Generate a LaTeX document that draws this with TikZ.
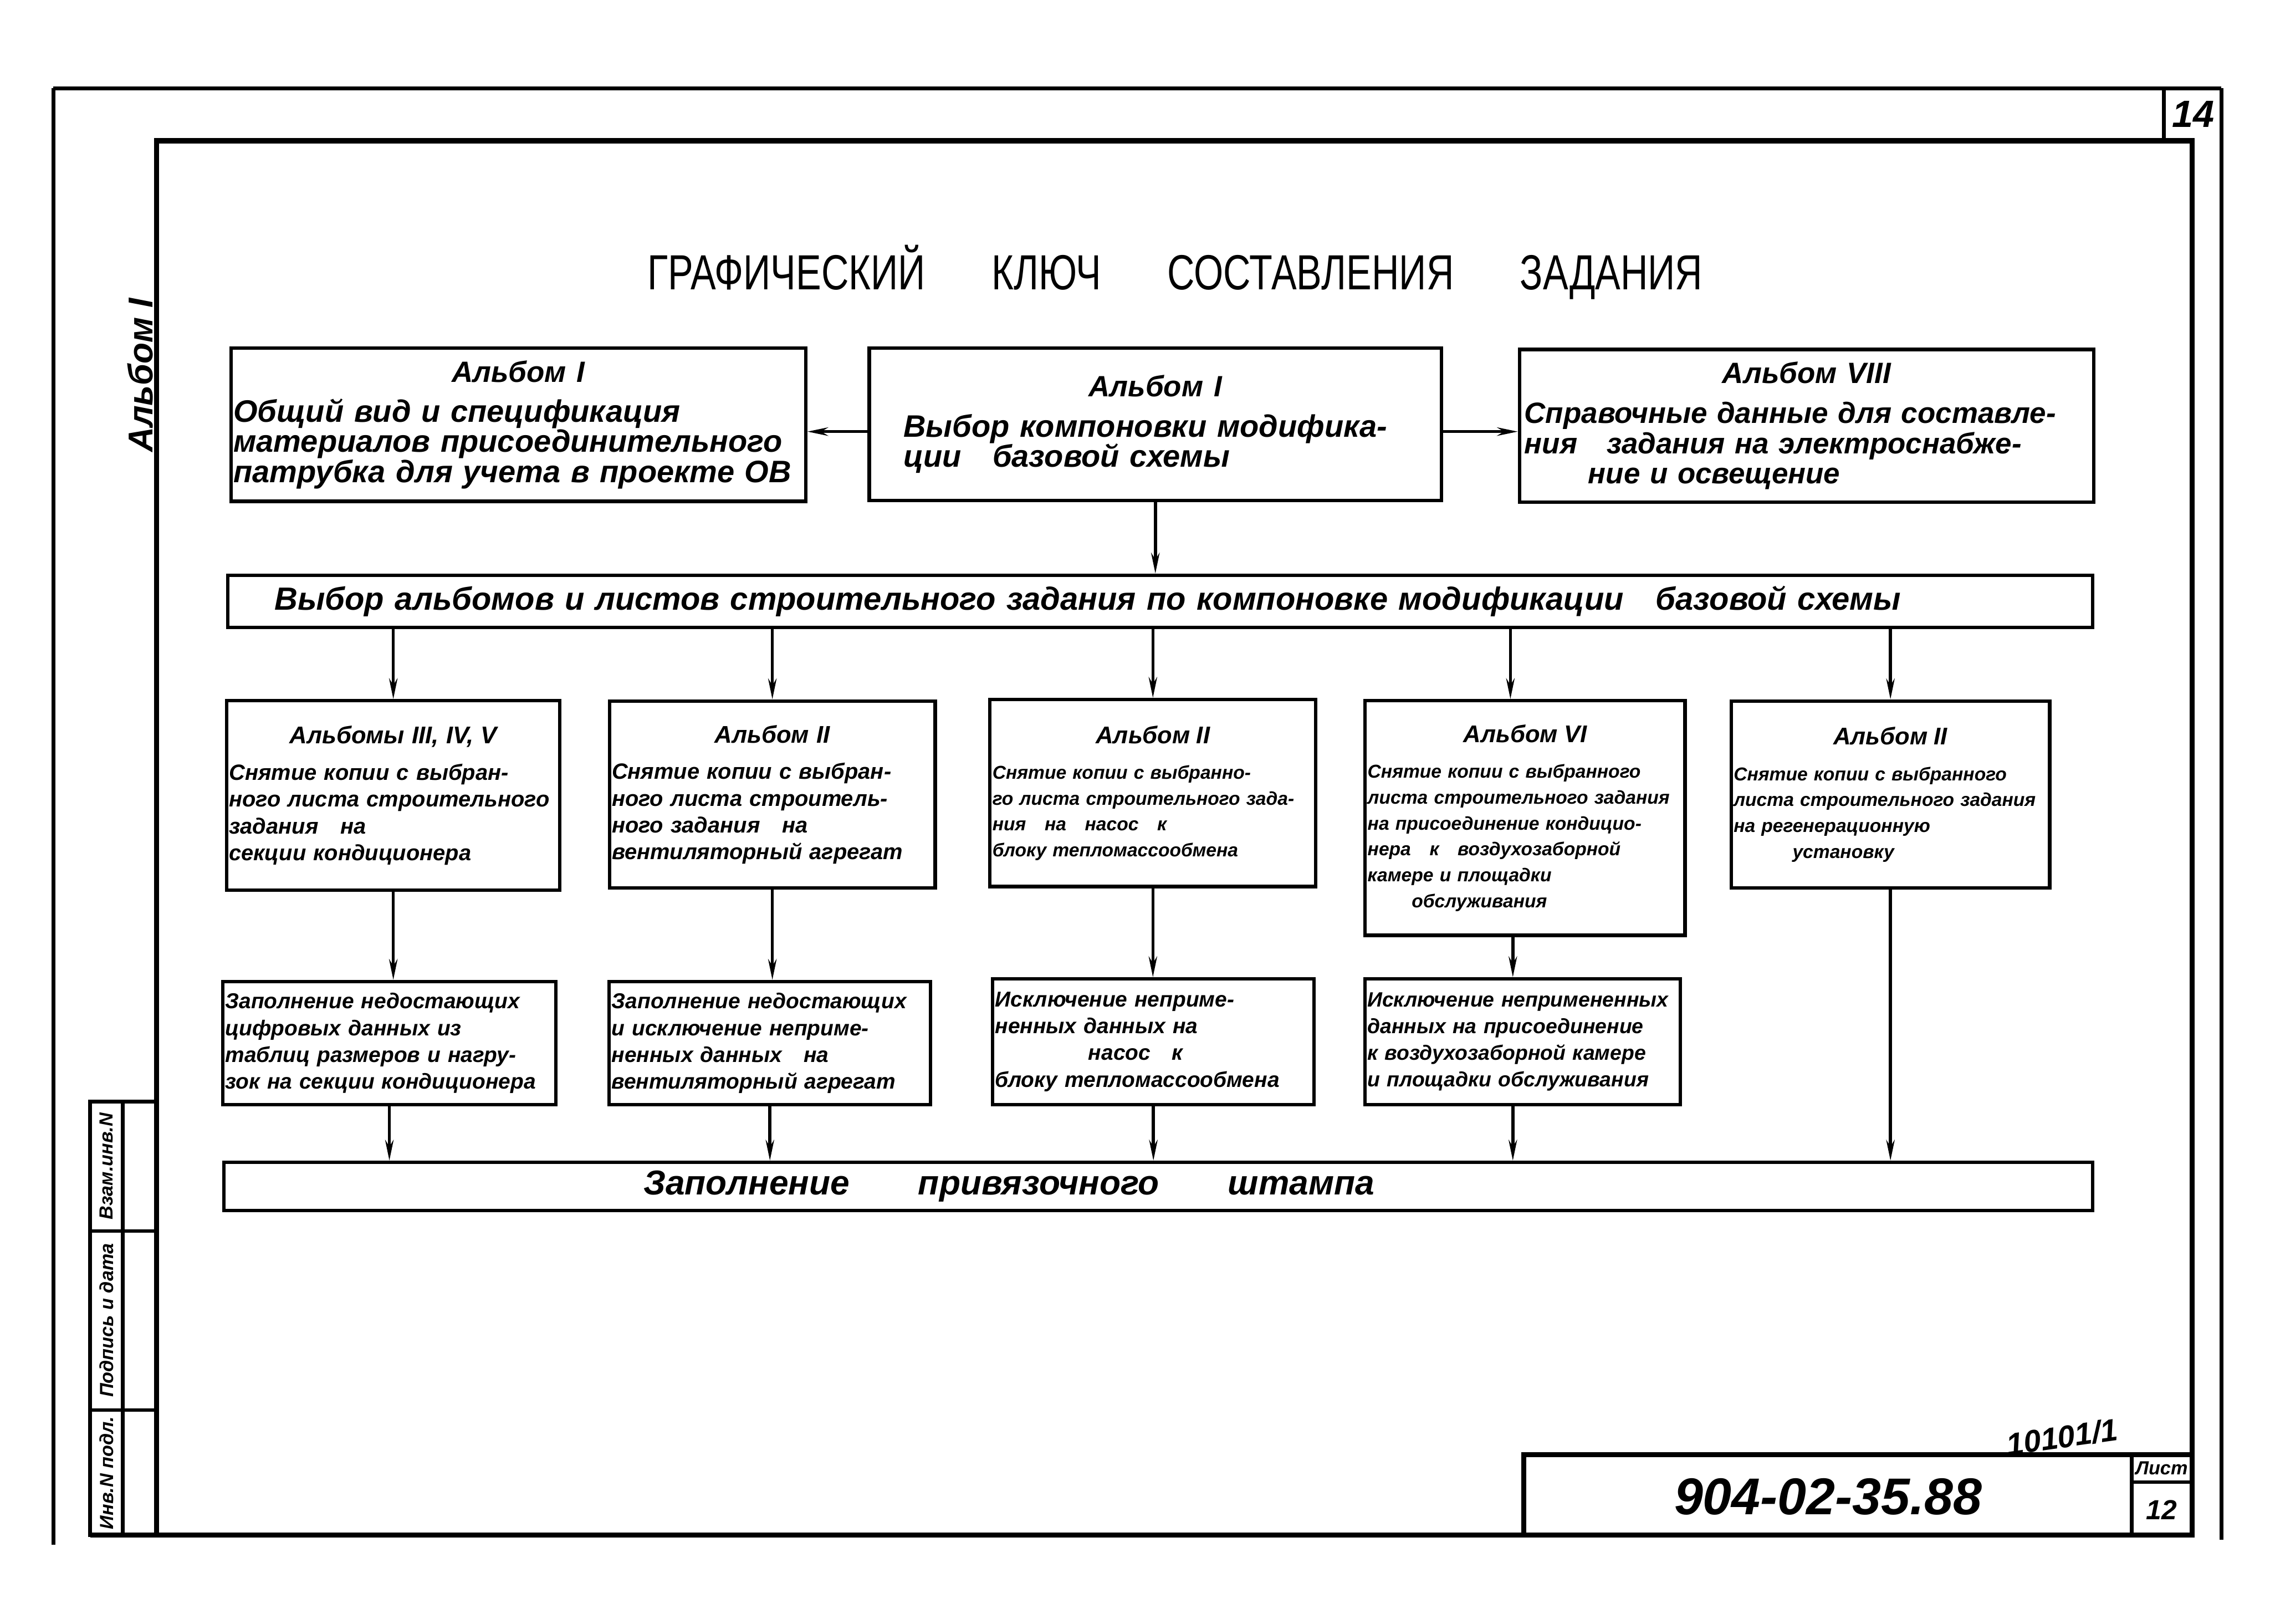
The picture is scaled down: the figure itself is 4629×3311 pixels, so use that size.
\documentclass[tikz,border=0pt]{standalone}
\usepackage{fontspec}
\usepackage{graphicx}
\setmainfont{Liberation Sans}
\usetikzlibrary{positioning, arrows.meta}

\newcommand{\entete}[2][16]{\makebox[\hsize]{\fontsize{#1}{#1}\selectfont #2}\\[0.2cm]}

\begin{document}
\begin{tikzpicture}[x=0.01cm, y=-0.01cm,
    cadre/.style={line width=3pt},
    trait/.style={line width=2.2pt},
    bloc/.style 2 args={draw, line width=2pt, inner xsep=0.05cm, inner ysep=0pt,
        text width=#1, minimum height=#2, align=left},
    haut/.style={font=\fontsize{18}{17.5}\selectfont\bfseries\itshape},
    milieu/.style={font=\fontsize{12.8}{15.5}\selectfont\bfseries\itshape},
    petit/.style={font=\fontsize{10.8}{15}\selectfont\bfseries\itshape},
    bas/.style={font=\fontsize{12.5}{15.5}\selectfont\bfseries\itshape},
    manuscrit/.style={font=\fontsize{#1}{#1}\selectfont\bfseries\itshape},
    fleche/.style={-{Stealth[length=0.42cm, width=0.17cm]}, line width=1.8pt}]
    \path[fill=white, use as bounding box] (0,0) rectangle (4629,3311);

    % Cadre
    \draw[trait] (109,180) -- (4530,180);
    \draw[trait] (109,180) -- (109,3150);
    \draw[trait] (4530,180) -- (4530,3140);
    \draw[trait] (4413,180) -- (4413,287);
    \draw[cadre] (184,3130) -- (4470,3130) -- (4470,287) -- (319,287) -- (319,3130);
    \draw[trait] (184,2246) rectangle (319,3130);
    \draw[trait] (250,2246) -- (250,3130);
    \draw[trait] (184,2510) -- (319,2510);
    \draw[trait] (184,2875) -- (319,2875);
    \draw[cadre] (3107,3130) -- (3107,2966) -- (4470,2966);
    \draw[trait] (4347,2966) -- (4347,3130);
    \draw[trait] (4347,3022) -- (4470,3022);

    \node[manuscrit=22] (page) at (4472,233) {14};
    \node[manuscrit=20, rotate=90] (album) at (286,765) {Альбом I};
    \node[manuscrit=11, rotate=90] (vzam) at (217,2378) {Взам.инв.N};
    \node[manuscrit=11, rotate=90] (podpis) at (217,2692) {Подпись и дата};
    \node[manuscrit=11, rotate=90] (inv) at (217,3003) {Инв.N подл.};
    \node[manuscrit=30] (code) at (3728,3052) {904-02-35.88};
    \node[manuscrit=11] (list) at (4408,2994) {Лист};
    \node[manuscrit=16] (numero) at (4408,3078) {12};
    \node[manuscrit=18, rotate=8] (archive) at (4205,2930) {10101/1};

    % Titre
    \node[font=\fontsize{22}{22}\selectfont] (titre) at (2396,555)
        {\scalebox{1}[1.3]{ГРАФИЧЕСКИЙ\hspace{1.35cm}КЛЮЧ\hspace{1.35cm}СОСТАВЛЕНИЯ\hspace{1.35cm}ЗАДАНИЯ}};

    % Blocs
    \node[bloc={11.61cm}{3.12cm}, haut] (general) at (1057,866)
        {\entete[17]{Альбом I}Общий вид и спецификация\\материалов присоединительного\\патрубка для учета в проекте ОВ};
    \node[bloc={10.26cm}{3.1cm}, haut, inner xsep=0.7cm] (choix) at (2356,865)
        {\entete[17]{Альбом I}Выбор компоновки модифика-\\ции\quad базовой схемы};
    \node[bloc={11.5cm}{3.11cm}, haut, inner xsep=0.1cm, font=\fontsize{17}{17.5}\selectfont\bfseries\itshape] (reference) at (3684,868)
        {\entete[17]{Альбом VIII}Справочные данные для составле-\\ния\quad задания на электроснабже-\\\hspace*{1.3cm}ние и освещение};

    \node[bloc={37.9cm}{1.06cm}, manuscrit=18.6] (liste) at (2366,1226)
        {\hspace*{0.9cm}Выбор альбомов и листов строительного задания по компоновке модификации\quad базовой схемы};

    \node[bloc={6.69cm}{3.86cm}, milieu] (copie1) at (802,1622)
        {\entete[14]{Альбомы III, IV, V}Снятие копии с выбран-\\ного листа строительного\\задания\quad на\\секции кондиционера};
    \node[bloc={6.54cm}{3.81cm}, milieu] (copie2) at (1575,1620)
        {\entete[14]{Альбом II}Снятие копии с выбран-\\ного листа строитель-\\ного задания\quad на\\вентиляторный агрегат};
    \node[bloc={6.54cm}{3.81cm}, petit] (copie3) at (2351,1617)
        {\entete[14]{Альбом II}Снятие копии с выбранно-\\го листа строительного зада-\\ния\quad на\quad насос\quad к\\блоку тепломассообмена};
    \node[bloc={6.42cm}{4.78cm}, petit] (copie4) at (3110,1668)
        {\entete[14]{Альбом VI}Снятие копии с выбранного\\листа строительного задания\\на присоединение кондицио-\\нера\quad к\quad воздухозаборной\\камере и площадки\\\hspace*{0.9cm}обслуживания};
    \node[bloc={6.39cm}{3.81cm}, petit] (copie5) at (3855,1620)
        {\entete[14]{Альбом II}Снятие копии с выбранного\\листа строительного задания\\на регенерационную\\\hspace*{1.2cm}установку};

    \node[bloc={6.69cm}{2.51cm}, bas] (remplir1) at (794,2127)
        {Заполнение недостающих\\цифровых данных из\\таблиц размеров и нагру-\\зок на секции кондиционера};
    \node[bloc={6.45cm}{2.51cm}, bas] (remplir2) at (1570,2127)
        {Заполнение недостающих\\и исключение неприме-\\ненных данных\quad на\\вентиляторный агрегат};
    \node[bloc={6.45cm}{2.56cm}, bas] (remplir3) at (2352,2124)
        {Исключение неприме-\\ненных данных на\\\hspace*{1.9cm}насос\quad к\\блоку тепломассообмена};
    \node[bloc={6.33cm}{2.56cm}, bas, font=\fontsize{12}{15.5}\selectfont\bfseries\itshape] (remplir4) at (3105,2124)
        {Исключение непримененных\\данных на присоединение\\к воздухозаборной камере\\и площадки обслуживания};

    \node[bloc={37.98cm}{0.98cm}, manuscrit=20] (tampon) at (2362,2419)
        {\hspace*{8.5cm}Заполнение\hspace{1.4cm}привязочного\hspace{1.4cm}штампа};

    % Flèches
    \draw[fleche] ([yshift=-0.15cm]choix.west) -- ([yshift=-0.15cm]choix.west -| general.east);
    \draw[fleche] ([yshift=-0.15cm]choix.east) -- ([yshift=-0.15cm]choix.east -| reference.west);
    \draw[fleche] (choix.south) -- (choix.south |- liste.north);
    \foreach \n in {1,2,3,5}
        \draw[fleche] (liste.south -| copie\n.north) -- (copie\n.north);
    \draw[fleche] ([xshift=-0.3cm]copie4.north |- liste.south) -- ([xshift=-0.3cm]copie4.north);
    \foreach \n in {1,2,3}
        \draw[fleche] (copie\n.south) -- (copie\n.south |- remplir\n.north);
    \draw[fleche] ([xshift=-0.25cm]copie4.south) -- ([xshift=-0.25cm]copie4.south |- remplir4.north);
    \draw[fleche] (copie5.south) -- (copie5.south |- tampon.north);
    \foreach \n in {1,2,3}
        \draw[fleche] (remplir\n.south) -- (remplir\n.south |- tampon.north);
    \draw[fleche] ([xshift=-0.2cm]remplir4.south) -- ([xshift=-0.2cm]remplir4.south |- tampon.north);
\end{tikzpicture}
\end{document}
